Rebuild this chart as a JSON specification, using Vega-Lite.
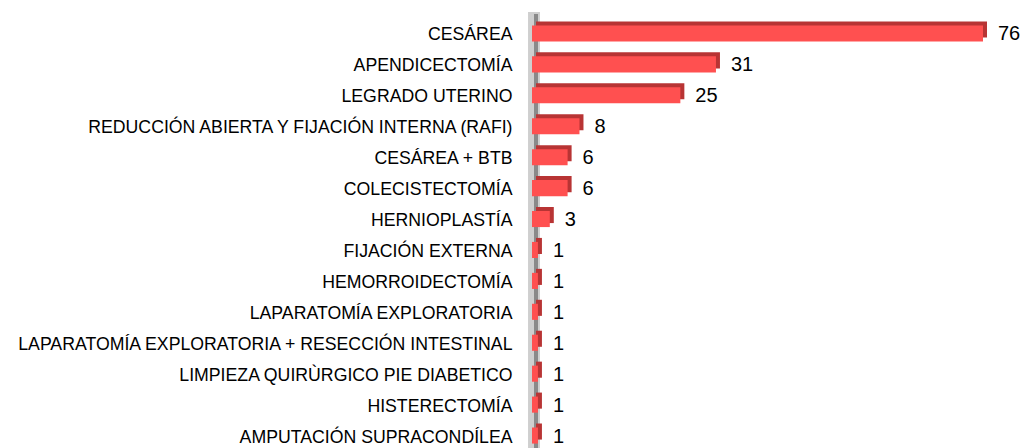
{
  "$schema": "https://vega.github.io/schema/vega-lite/v6.json",
  "autosize": "none",
  "width": 451,
  "height": 433,
  "padding": {"left": 532, "top": 20, "right": 50, "bottom": 0},
  "background": "white",
  "config": {"view": {"stroke": null}, "font": "Liberation Sans"},
  "data": {"values": [
    {"proc": "CESÁREA", "n": 76},
    {"proc": "APENDICECTOMÍA", "n": 31},
    {"proc": "LEGRADO UTERINO", "n": 25},
    {"proc": "REDUCCIÓN ABIERTA Y FIJACIÓN INTERNA (RAFI)", "n": 8},
    {"proc": "CESÁREA + BTB", "n": 6},
    {"proc": "COLECISTECTOMÍA", "n": 6},
    {"proc": "HERNIOPLASTÍA", "n": 3},
    {"proc": "FIJACIÓN EXTERNA", "n": 1},
    {"proc": "HEMORROIDECTOMÍA", "n": 1},
    {"proc": "LAPARATOMÍA EXPLORATORIA", "n": 1},
    {"proc": "LAPARATOMÍA EXPLORATORIA + RESECCIÓN INTESTINAL", "n": 1},
    {"proc": "LIMPIEZA QUIRÙRGICO PIE DIABETICO", "n": 1},
    {"proc": "HISTERECTOMÍA", "n": 1},
    {"proc": "AMPUTACIÓN SUPRACONDÍLEA", "n": 1}
  ]},
  "encoding": {
    "y": {"field": "proc", "type": "nominal", "sort": null,
      "scale": {"paddingInner": 0.48, "paddingOuter": 0.24},
      "axis": {"title": null, "domain": false, "ticks": false, "labelFontSize": 17.7, "labelColor": "#000000", "labelPadding": 20, "labelLimit": 600, "labelFont": "Liberation Sans"}},
    "x": {"field": "n", "type": "quantitative", "scale": {"domain": [0, 76], "nice": false}, "axis": null}
  },
  "layer": [
    {"mark": {"type": "rule", "stroke": "#cfcfcf", "strokeWidth": 11, "xOffset": 2, "y": -8, "y2": 448}, "encoding": {"x": {"datum": 0}, "y": null}},
    {"mark": {"type": "rule", "stroke": "#8a8a8a", "strokeWidth": 4, "xOffset": 4, "y": -6, "y2": 448}, "encoding": {"x": {"datum": 0}, "y": null}},
    {"mark": {"type": "bar", "color": "#b83434", "xOffset": 4, "yOffset": -6}},
    {"mark": {"type": "bar", "color": "#ff5050", "yOffset": -2}},
    {"mark": {"type": "text", "align": "left", "baseline": "middle", "dx": 15, "dy": -1, "fontSize": 20, "color": "#000000"}, "encoding": {"text": {"field": "n", "type": "quantitative"}}}
  ]
}
